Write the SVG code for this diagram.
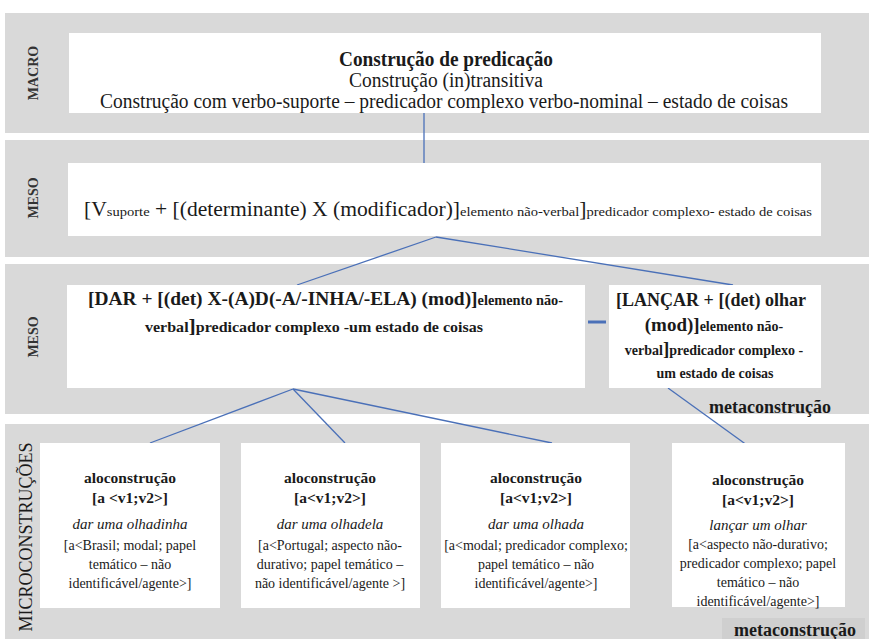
<svg xmlns="http://www.w3.org/2000/svg" width="869" height="639" viewBox="0 0 869 639">
<style>
.band{fill:#d9d9d9}
.box{fill:#ffffff}
text{font-family:"Liberation Serif","DejaVu Serif","Noto Serif",serif;fill:#1a1a1a}
.lab{font-weight:bold;font-size:14px;fill:#333}
.b{font-weight:bold}
.i{font-style:italic}
.c{text-anchor:middle}
.con{stroke:#4a70b8;stroke-width:1.3;fill:none}
</style>
<rect width="869" height="639" fill="#ffffff"/>
<g id="bands">
<rect class="band" x="5" y="13" width="864" height="120"/>
<rect class="band" x="5" y="140" width="864" height="117"/>
<rect class="band" x="5" y="264" width="864" height="150"/>
<rect class="band" x="5" y="424" width="864" height="215"/>
<text class="lab c" transform="translate(38,73) rotate(-90)">MACRO</text>
<text class="lab c" transform="translate(38,198) rotate(-90)">MESO</text>
<text class="lab c" transform="translate(38,337) rotate(-90)">MESO</text>
<text class="c" font-size="18" fill="#333" transform="translate(32,537) rotate(-90)">MICROCONSTRUÇÕES</text>
</g>
<g id="connectors">
<line class="con" x1="424" y1="113" x2="424" y2="163"/>
<line class="con" x1="436" y1="237" x2="297" y2="285"/>
<line class="con" x1="436" y1="237" x2="733" y2="285"/>
<line x1="588" y1="322" x2="606" y2="322" stroke="#4a70b8" stroke-width="3"/>
<line class="con" x1="293" y1="389" x2="150" y2="443"/>
<line class="con" x1="293" y1="389" x2="345" y2="443"/>
<line class="con" x1="293" y1="389" x2="552" y2="443"/>
<line class="con" x1="668" y1="388" x2="751" y2="448"/>
</g>
<g id="macro">
<rect class="box" x="69" y="33" width="752" height="80"/>
<text class="b c" x="446" y="66" font-size="20" textLength="214" lengthAdjust="spacingAndGlyphs">Construção de predicação</text>
<text class="c" x="446" y="87" font-size="20" textLength="194" lengthAdjust="spacingAndGlyphs">Construção (in)transitiva</text>
<text class="c" x="444" y="108" font-size="20" textLength="688" lengthAdjust="spacingAndGlyphs">Construção com verbo-suporte – predicador complexo verbo-nominal – estado de coisas</text>
</g>
<g id="meso1">
<rect class="box" x="68" y="163" width="753" height="73"/>
<text x="84" y="216" font-size="20" textLength="728" lengthAdjust="spacingAndGlyphs">[V<tspan font-size="13.5">suporte</tspan> + [(determinante) X (modificador)]<tspan font-size="13.5">elemento não-verbal</tspan>]<tspan font-size="13.5">predicador complexo- estado de coisas</tspan></text>
</g>
<g id="meso2-dar">
<rect class="box" x="67" y="285" width="518" height="103"/>
<text class="b" x="88" y="305" font-size="19" textLength="475" lengthAdjust="spacingAndGlyphs">[DAR + [(det) X-(A)D(-A/-INHA/-ELA) (mod)]<tspan font-size="14">elemento não-</tspan></text>
<text class="b" x="145" y="332" font-size="14" textLength="338" lengthAdjust="spacingAndGlyphs">verbal<tspan font-size="19">]</tspan>predicador complexo -um estado de coisas</text>
</g>
<g id="meso2-lancar">
<rect class="box" x="609" y="285" width="212" height="103"/>
<text class="b" x="616" y="306" font-size="19" textLength="190" lengthAdjust="spacingAndGlyphs">[LANÇAR + [(det) olhar</text>
<text class="b c" x="714" y="331" font-size="19">(mod)]<tspan font-size="14">elemento não-</tspan></text>
<text class="b c" x="714" y="355" font-size="14">verbal<tspan font-size="19">]</tspan>predicador complexo -</text>
<text class="b c" x="715" y="378" font-size="14">um estado de coisas</text>
<text class="b c" x="770" y="413" font-size="18">metaconstrução</text>
</g>
<g id="micro1">
<rect class="box" x="40" y="443" width="180" height="165"/>
<text class="b c" x="130" y="483" font-size="15.5">aloconstrução</text>
<text class="b c" x="130" y="503" font-size="15.5">[a &lt;v1;v2&gt;]</text>
<text class="i c" x="130" y="529" font-size="15">dar uma olhadinha</text>
<text class="c" x="130" y="550" font-size="14">[a&lt;Brasil; modal; papel</text>
<text class="c" x="130" y="569" font-size="14">temático – não</text>
<text class="c" x="130" y="588" font-size="14">identificável/agente&gt;]</text>
</g>
<g id="micro2">
<rect class="box" x="241" y="443" width="179" height="165"/>
<text class="b c" x="330" y="483" font-size="15.5">aloconstrução</text>
<text class="b c" x="330" y="503" font-size="15.5">[a&lt;v1;v2&gt;]</text>
<text class="i c" x="330" y="529" font-size="15">dar uma olhadela</text>
<text class="c" x="330" y="550" font-size="14">[a&lt;Portugal; aspecto não-</text>
<text class="c" x="330" y="569" font-size="14">durativo; papel temático –</text>
<text class="c" x="330" y="588" font-size="14">não identificável/agente &gt;]</text>
</g>
<g id="micro3">
<rect class="box" x="441" y="443" width="189" height="165"/>
<text class="b c" x="536" y="483" font-size="15.5">aloconstrução</text>
<text class="b c" x="536" y="503" font-size="15.5">[a&lt;v1;v2&gt;]</text>
<text class="i c" x="536" y="529" font-size="15">dar uma olhada</text>
<text class="c" x="536" y="550" font-size="14">[a&lt;modal; predicador complexo;</text>
<text class="c" x="536" y="569" font-size="14">papel temático – não</text>
<text class="c" x="536" y="588" font-size="14">identificável/agente&gt;]</text>
</g>
<g id="micro4">
<rect class="box" x="672" y="443" width="173" height="164"/>
<text class="b c" x="758" y="485" font-size="15.5">aloconstrução</text>
<text class="b c" x="758" y="505" font-size="15.5">[a&lt;v1;v2&gt;]</text>
<text class="i c" x="758" y="530" font-size="15">lançar um olhar</text>
<text class="c" x="758" y="549" font-size="14">[a&lt;aspecto não-durativo;</text>
<text class="c" x="758" y="568" font-size="14">predicador complexo; papel</text>
<text class="c" x="758" y="587" font-size="14">temático – não</text>
<text class="c" x="758" y="606" font-size="14">identificável/agente&gt;]</text>
<rect x="722" y="618" width="143" height="21" fill="#cfcfcf"/>
<text class="b c" x="795" y="636" font-size="18">metaconstrução</text>
</g>
</svg>
